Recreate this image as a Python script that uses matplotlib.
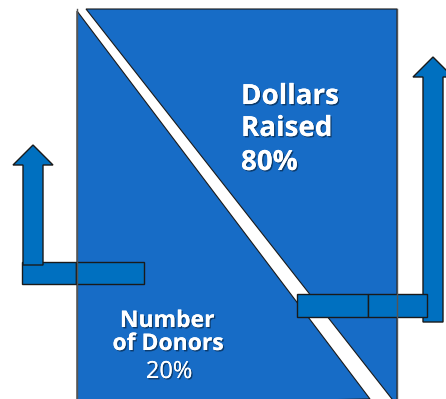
import matplotlib
matplotlib.use("Agg")
import matplotlib.pyplot as plt
import matplotlib.patheffects as pe
from matplotlib.patches import Polygon, Rectangle

# Data: share of donors vs share of dollars raised
labels = ["Number\nof Donors", "Dollars\nRaised"]
shares = [20, 80]

W, H = 446, 399
BLUE = "#176cc6"
BOX_BLUE = "#0070c0"
EDGE = "#1a1a1a"

fig = plt.figure(figsize=(W / 100, H / 100), dpi=100)
ax = fig.add_axes([0, 0, 1, 1])
ax.set_xlim(0, W)
ax.set_ylim(H, 0)
ax.axis("off")

# big rectangle split by a white diagonal band
left, right, top, bottom = 77, 397, 9, 399
lower = Polygon([(left, 11), (left, bottom + 5), (370, bottom)],
                closed=True, fc=BLUE, ec=EDGE, lw=0.8)
upper = Polygon([(86, top), (right, top), (right, bottom + 5), (392, bottom)],
                closed=True, fc=BLUE, ec=EDGE, lw=0.8)
ax.add_patch(lower)
ax.add_patch(upper)
ax.plot([left, left], [top, bottom + 5], color="#555555", lw=1.0)
ax.plot([right, right], [top, bottom + 5], color="#555555", lw=1.0)


def up_arrow(x0, x1, y_head, y_tip, y_end, head_w):
    xc = (x0 + x1) / 2
    pts = [(x0, y_end), (x0, y_head), (xc - head_w / 2, y_head), (xc, y_tip),
           (xc + head_w / 2, y_head), (x1, y_head), (x1, y_end)]
    return Polygon(pts, closed=True, fc=BOX_BLUE, ec=EDGE, lw=1.0)


def split_box(x0, xm, x1, y0, y1):
    for a, b in [(x0, xm), (xm, x1)]:
        ax.add_patch(Rectangle((a, y0), b - a, y1 - y0, fc=BOX_BLUE, ec=EDGE, lw=1.0))


# left side: box then arrow on top
split_box(22, 76, 144, 262, 284)
ax.add_patch(up_arrow(23, 43, 165, 145, 265, 40))

# right side: arrow then box on top
ax.add_patch(up_arrow(423, 443, 77, 57, 322, 40))
split_box(297, 368, 427, 294, 317)

shadow = [pe.withSimplePatchShadow(offset=(1, -1), shadow_rgbFace="black", alpha=0.45),
          pe.Normal()]

# Dollars raised label
top_lines = labels[1].split("\n") + [f"{shares[1]}%"]
for txt, y in zip(top_lines, [104, 136, 170]):
    ax.text(241, y, txt, color="white", fontsize=20,
            fontweight="bold", family="Open Sans", ha="left", va="baseline",
            path_effects=shadow)

# Number of donors label
ax.text(167, 327, labels[0].split("\n")[0], color="white", fontsize=16.5,
        fontweight="bold", family="Open Sans", ha="center", va="baseline",
        path_effects=shadow)
ax.text(168, 350, labels[0].split("\n")[1], color="white", fontsize=16.5,
        fontweight="bold", family="Open Sans", ha="center", va="baseline",
        path_effects=shadow)
ax.text(169, 378, f"{shares[0]}%", color="white", fontsize=17,
        family="Open Sans", ha="center", va="baseline",
        path_effects=shadow)

fig.savefig("out.png", dpi=100)
